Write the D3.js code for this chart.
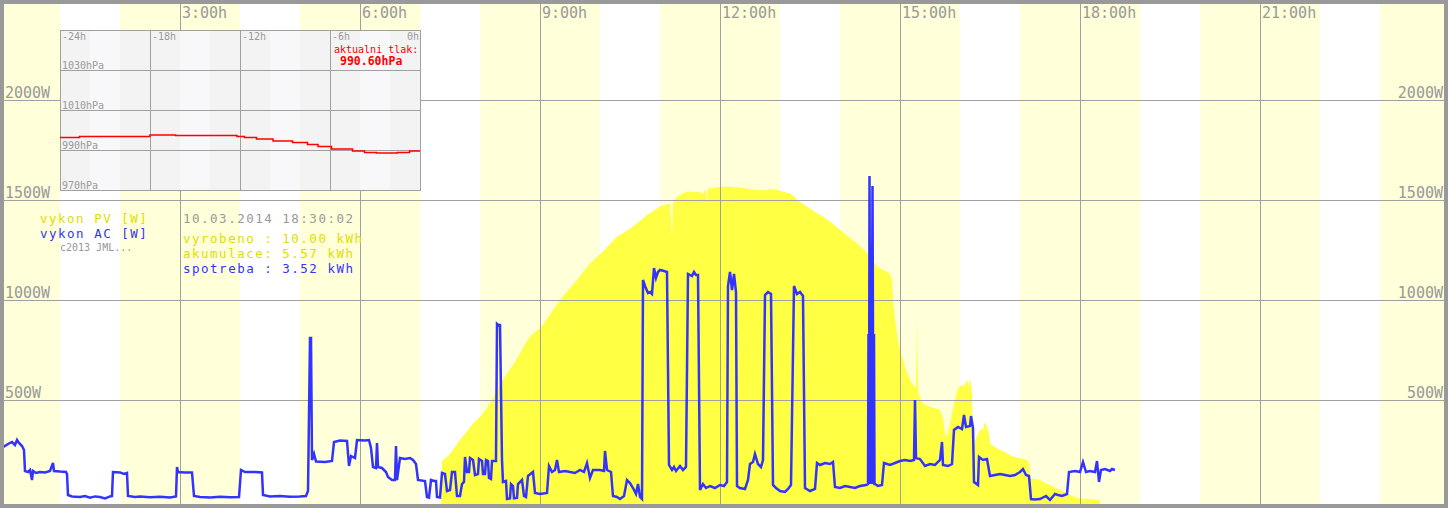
<!DOCTYPE html>
<html>
<head>
<meta charset="utf-8">
<script src="https://cdn.jsdelivr.net/npm/d3@7"></script>
<style>
  html, body { margin: 0; padding: 0; background: #fff; }
  svg { display: block; font-family: "DejaVu Sans Mono", monospace; }
</style>
</head>
<body>
<svg id="chart" width="1448" height="508"></svg>
<script>
// PV output, [minutes since midnight, W]
var pvPower = [
  [441, 0], [442, 195], [450, 230], [460, 300], [467, 345], [473, 383], [482, 425], [487, 460],
  [492, 500], [497, 550], [503, 600], [508, 640], [513, 675], [520, 733], [525, 780], [530, 817],
  [535, 840], [540, 858], [547, 905], [553, 950], [558, 985], [563, 1017], [570, 1060], [577, 1100],
  [583, 1140], [590, 1183], [597, 1215], [603, 1242], [610, 1280], [617, 1317], [625, 1340], [633, 1367],
  [640, 1395], [647, 1425], [653, 1445], [660, 1467], [665, 1475], [670, 1483], [672, 1310], [673, 1483],
  [677, 1517], [682, 1530], [687, 1542], [693, 1540], [700, 1540], [703, 1530], [706, 1555], [707, 1480],
  [708, 1558], [715, 1560], [723, 1567], [730, 1565], [740, 1562], [748, 1555], [757, 1550], [765, 1548],
  [770, 1555], [777, 1550], [784, 1540], [790, 1533], [795, 1515], [797, 1500], [802, 1485], [807, 1467],
  [815, 1440], [823, 1417], [832, 1385], [840, 1350], [848, 1318], [857, 1283], [864, 1250], [870, 1217],
  [874, 1190], [877, 1167], [883, 1150], [890, 1133], [892, 1100], [893, 1000], [895, 900], [898, 800],
  [900, 750], [903, 700], [906, 650], [910, 600], [914, 570], [916, 560], [917, 890], [918, 550],
  [920, 510], [923, 483], [928, 470], [934, 460], [940, 450], [943, 410], [945, 330], [947, 317],
  [950, 380], [953, 460], [955, 500], [958, 560], [961, 575], [963, 567], [965, 580], [967, 600],
  [969, 570], [970, 610], [971, 580], [972, 540], [973, 233], [975, 300], [978, 330], [980, 350],
  [983, 355], [985, 390], [987, 367], [989, 330], [990, 283], [995, 265], [1000, 250], [1005, 240],
  [1010, 225], [1013, 217], [1018, 210], [1023, 205], [1027, 200], [1029, 180], [1030, 108], [1035, 105],
  [1040, 100], [1045, 85], [1050, 75], [1053, 67], [1060, 50], [1067, 33], [1072, 20], [1078, 10],
  [1085, 5], [1095, 3], [1100, 0]
];

// AC output, [minutes since midnight, W]
var acPower = [
  [0, 265], [4, 267], [8, 280], [12, 290], [15, 275], [17, 300], [19, 285], [22, 270], [24, 250], [25, 145],
  [28, 140], [30, 150], [32, 100], [33, 145], [36, 135], [40, 140], [45, 138], [50, 145], [53, 185], [54, 145],
  [60, 142], [66, 140], [67, 130], [68, 25], [72, 18], [80, 15], [85, 20], [90, 12], [95, 18], [100, 15],
  [105, 8], [110, 18], [112, 20], [113, 140], [120, 138], [124, 130], [127, 135], [128, 20], [135, 15], [140, 18],
  [150, 14], [160, 16], [170, 12], [176, 18], [177, 165], [178, 140], [185, 138], [192, 138], [194, 20], [200, 15],
  [210, 12], [220, 16], [230, 14], [239, 15], [241, 150], [245, 140], [255, 140], [262, 138], [263, 25], [270, 18],
  [280, 20], [290, 16], [300, 18], [306, 20], [308, 45], [310, 810], [311, 810], [312, 200], [314, 230], [316, 192],
  [325, 190], [332, 195], [334, 290], [340, 297], [347, 295], [349, 170], [351, 220], [355, 210], [357, 300], [365, 298],
  [369, 300], [371, 260], [373, 165], [376, 160], [377, 285], [378, 165], [382, 160], [386, 140], [388, 115], [392, 100],
  [395, 100], [396, 270], [397, 100], [400, 210], [405, 205], [410, 210], [413, 200], [416, 180], [418, 100], [425, 95],
  [427, 15], [429, 12], [431, 100], [434, 95], [436, 95], [437, 15], [440, 12], [442, 135], [445, 130], [447, 45],
  [450, 50], [452, 140], [455, 140], [457, 20], [460, 20], [462, 80], [464, 90], [465, 215], [467, 140], [469, 140],
  [470, 210], [473, 200], [475, 125], [478, 130], [479, 205], [482, 195], [483, 130], [485, 130], [486, 200], [488, 195],
  [489, 110], [491, 105], [492, 195], [496, 195], [497, 880], [499, 870], [500, 880], [502, 200], [503, 90], [506, 95],
  [507, 5], [510, 8], [511, 80], [513, 70], [514, 8], [517, 10], [518, 80], [522, 100], [524, 20], [526, 15],
  [528, 120], [533, 140], [535, 35], [540, 30], [547, 35], [549, 170], [552, 140], [555, 150], [557, 200], [559, 140],
  [565, 145], [570, 140], [575, 135], [580, 150], [584, 140], [587, 185], [590, 110], [593, 150], [600, 150], [604, 145],
  [605, 245], [607, 150], [611, 140], [613, 20], [617, 15], [620, 5], [624, 20], [627, 100], [630, 85], [633, 60],
  [636, 30], [638, 80], [640, 15], [642, 5], [643, 1100], [645, 1070], [648, 1035], [650, 1040], [652, 1030], [654, 1160],
  [656, 1110], [658, 1140], [660, 1150], [664, 1145], [667, 1140], [669, 175], [672, 150], [674, 165], [676, 145], [680, 170],
  [683, 150], [686, 165], [688, 1130], [692, 1120], [694, 1140], [696, 1125], [698, 1125], [700, 50], [703, 80], [706, 60],
  [710, 70], [715, 60], [720, 75], [724, 70], [727, 90], [728, 1070], [730, 1140], [732, 1050], [734, 1130], [736, 1040],
  [737, 70], [740, 60], [745, 55], [748, 100], [750, 180], [753, 190], [755, 230], [758, 180], [761, 165], [763, 200],
  [765, 1025], [768, 1040], [771, 1030], [773, 75], [776, 60], [780, 45], [785, 40], [788, 55], [791, 75], [794, 1070],
  [797, 1030], [800, 1040], [803, 1020], [805, 60], [810, 45], [815, 55], [817, 185], [820, 175], [825, 185], [830, 180],
  [833, 190], [835, 65], [840, 60], [845, 70], [850, 65], [855, 60], [860, 70], [866, 75], [868, 80], [868.5, 830],
  [869, 80], [869.5, 1620], [870, 830], [870.5, 80], [871, 830], [871.5, 80], [872, 830], [872.5, 1570], [873, 830], [873.5, 80],
  [874, 830], [874.5, 80], [875, 80], [878, 70], [882, 75], [884, 185],
  [890, 175], [895, 185], [900, 195], [905, 200], [910, 195], [914, 200], [915, 500], [916, 210], [920, 205], [925, 170],
  [930, 180], [935, 175], [940, 200], [942, 290], [943, 175], [948, 170], [952, 180], [954, 350], [958, 365], [962, 355],
  [964, 425], [966, 365], [970, 370], [971, 420], [973, 360], [974, 90], [978, 75], [979, 215], [983, 200], [987, 205],
  [990, 120], [995, 125], [1000, 130], [1005, 125], [1010, 120], [1015, 125], [1020, 140], [1023, 155], [1026, 125], [1029, 120],
  [1031, 5], [1035, 3], [1040, 5], [1046, 20], [1050, 0], [1055, 30], [1058, 25], [1062, 20], [1067, 30], [1069, 140],
  [1075, 145], [1080, 140], [1083, 190], [1086, 140], [1090, 145], [1095, 140], [1097, 195], [1099, 90], [1101, 150], [1105, 155],
  [1110, 145], [1112, 155], [1115, 150]
];

// air pressure, [hours before now, hPa]
var pressure = [
  [-24, 996.2], [-22.7, 996.8], [-18, 997.5], [-16.3, 997.3], [-12.2, 996.7], [-11.7, 996.2],
  [-10.9, 995.5], [-9.8, 994.5], [-8.5, 993.8], [-7.5, 992.8], [-6.8, 991.8], [-5.9, 990.5],
  [-4.5, 989.5], [-3.7, 988.8], [-2.9, 988.5], [-1.5, 988.8], [-0.7, 989.5], [0, 989.5]
];

var hourTicks = [3, 6, 9, 12, 15, 18, 21];
var bandHours = [0, 3, 6, 9, 12, 15, 18, 21, 24];
var wattTicks = [500, 1000, 1500, 2000];
var pressureHours = [-24, -18, -12, -6, 0];
var pressureTicks = [1030, 1010, 990, 970];
var legendLabels = ['vykon PV [W]', 'vykon AC [W]'];
var summaryLines = ['10.03.2014 18:30:02', 'vyrobeno : 10.00 kWh', 'akumulace: 5.57 kWh', 'spotreba : 3.52 kWh'];
var currentPressure = '990.60hPa';

(function() {
  'use strict';

  var W = 1448, H = 508;
  var gridColor = '#a0a0a0', textColor = '#999999';
  var pvColor = '#ffff44', pvText = '#dede00', acColor = '#3333ff';

  var svg = d3.select('#chart');

  var x = d3.scaleLinear().domain([0, 24 * 60]).range([0, 1440]);
  var y = d3.scaleLinear().domain([0, 2500]).range([500, 0]);

  svg.append('rect').attr('width', W).attr('height', H).attr('fill', '#fff');

  // light yellow bands, two hours wide round every third hour
  svg.append('g').selectAll('rect')
    .data(bandHours)
    .enter().append('rect')
    .attr('x', function(h) { return x(h * 60 - 60); })
    .attr('y', 0)
    .attr('width', x(120) - x(0))
    .attr('height', H)
    .attr('fill', '#ffffd9');

  // PV area
  var area = d3.area()
    .x(function(d) { return x(d[0]); })
    .y0(H)
    .y1(function(d) { return y(d[1]); });

  svg.append('path')
    .datum(pvPower)
    .attr('d', area)
    .attr('fill', pvColor);

  // grid
  var grid = svg.append('g').attr('stroke', gridColor).attr('stroke-width', 1);
  grid.selectAll('.vline')
    .data(hourTicks)
    .enter().append('line')
    .attr('x1', function(h) { return Math.round(x(h * 60)) + 0.5; })
    .attr('x2', function(h) { return Math.round(x(h * 60)) + 0.5; })
    .attr('y1', 0).attr('y2', H);
  grid.selectAll('.hline')
    .data(wattTicks)
    .enter().append('line')
    .attr('x1', 0).attr('x2', W)
    .attr('y1', function(v) { return Math.round(y(v)) + 0.5; })
    .attr('y2', function(v) { return Math.round(y(v)) + 0.5; });

  // AC line
  var line = d3.line()
    .x(function(d) { return x(d[0]); })
    .y(function(d) { return y(d[1]); });

  svg.append('path')
    .datum(acPower)
    .attr('d', line)
    .attr('fill', 'none')
    .attr('stroke', acColor)
    .attr('stroke-width', 2.5)
    .attr('stroke-linejoin', 'miter');

  // axis labels
  var labels = svg.append('g').attr('fill', textColor).style('font-size', '15px');
  labels.selectAll('.tl')
    .data(hourTicks)
    .enter().append('text')
    .attr('x', function(h) { return x(h * 60) + 2; })
    .attr('y', 18)
    .text(function(h) { return h + ':00h'; });
  labels.selectAll('.wl')
    .data(wattTicks)
    .enter().append('text')
    .attr('x', 5)
    .attr('y', function(v) { return y(v) - 2; })
    .text(function(v) { return v + 'W'; });
  labels.selectAll('.wr')
    .data(wattTicks)
    .enter().append('text')
    .attr('x', 1443)
    .attr('y', function(v) { return y(v) - 2; })
    .attr('text-anchor', 'end')
    .text(function(v) { return v + 'W'; });

  // legend (smaller font with spacing so the 15px lines do not collide)
  var legend = svg.append('g').style('font-size', '12.5px').style('letter-spacing', '1.5px');
  legend.selectAll('text')
    .data(legendLabels)
    .enter().append('text')
    .attr('x', 40)
    .attr('y', function(d, i) { return 223 + i * 15; })
    .attr('fill', function(d, i) { return i ? acColor : pvText; })
    .text(function(d) { return d; });
  svg.append('text')
    .attr('x', 60).attr('y', 251)
    .attr('fill', textColor)
    .style('font-size', '10px')
    .text('c2013 JML...');

  var summary = svg.append('g').style('font-size', '12.5px').style('letter-spacing', '1.5px');
  summary.selectAll('text')
    .data(summaryLines)
    .enter().append('text')
    .attr('x', 183)
    .attr('y', function(d, i) { return i ? 228 + i * 15 : 223; })
    .attr('fill', function(d, i) { return [textColor, pvText, pvText, acColor][i]; })
    .text(function(d) { return d; });

  // pressure inset
  var ix = d3.scaleLinear().domain([-24, 0]).range([60, 420]);
  var iy = d3.scaleLinear().domain([1050, 970]).range([30, 190]);
  var inset = svg.append('g');

  inset.append('rect')
    .attr('x', ix(-24)).attr('y', iy(1050))
    .attr('width', ix(0) - ix(-24)).attr('height', iy(970) - iy(1050))
    .attr('fill', '#f3f3f3');
  inset.selectAll('.stripe')
    .data(pressureHours.slice(0, 4))
    .enter().append('rect')
    .attr('x', function(h) { return ix(h + 2); })
    .attr('y', iy(1050))
    .attr('width', ix(2) - ix(0))
    .attr('height', iy(970) - iy(1050))
    .attr('fill', '#f8f8fb');

  var igrid = inset.append('g').attr('stroke', gridColor).attr('stroke-width', 1);
  igrid.selectAll('.iv')
    .data(pressureHours)
    .enter().append('line')
    .attr('x1', function(h) { return Math.round(ix(h)) + 0.5; })
    .attr('x2', function(h) { return Math.round(ix(h)) + 0.5; })
    .attr('y1', iy(1050)).attr('y2', iy(970) + 1);
  igrid.selectAll('.ih')
    .data([1050].concat(pressureTicks))
    .enter().append('line')
    .attr('x1', ix(-24)).attr('x2', ix(0) + 1)
    .attr('y1', function(p) { return Math.round(iy(p)) + 0.5; })
    .attr('y2', function(p) { return Math.round(iy(p)) + 0.5; });

  var ilabels = inset.append('g').attr('fill', textColor).style('font-size', '10px');
  ilabels.selectAll('.ihl')
    .data(pressureHours)
    .enter().append('text')
    .attr('x', function(h) { return h === 0 ? ix(h) - 1 : ix(h) + 2; })
    .attr('y', 40)
    .attr('text-anchor', function(h) { return h === 0 ? 'end' : 'start'; })
    .text(function(h) { return h + 'h'; });
  ilabels.selectAll('.ipl')
    .data(pressureTicks)
    .enter().append('text')
    .attr('x', ix(-24) + 2)
    .attr('y', function(p) { return iy(p) - 1.5; })
    .text(function(p) { return p + 'hPa'; });

  var pline = d3.line()
    .x(function(d) { return ix(d[0]); })
    .y(function(d) { return iy(d[1]); })
    .curve(d3.curveStepAfter);

  inset.append('path')
    .datum(pressure)
    .attr('d', pline)
    .attr('fill', 'none')
    .attr('stroke', '#ff0000')
    .attr('stroke-width', 1.5);

  inset.append('text')
    .attr('x', 334).attr('y', 53)
    .attr('fill', '#ff0000')
    .style('font-size', '10px')
    .text('aktualni tlak:');
  inset.append('text')
    .attr('x', 340).attr('y', 64.5)
    .attr('fill', '#ff0000')
    .style('font-size', '11.5px')
    .style('font-weight', 'bold')
    .text(currentPressure);

  // frame
  svg.append('rect')
    .attr('x', 2).attr('y', 2)
    .attr('width', W - 4).attr('height', H - 4)
    .attr('fill', 'none')
    .attr('stroke', '#999999')
    .attr('stroke-width', 4);
})();
</script>
</body>
</html>
